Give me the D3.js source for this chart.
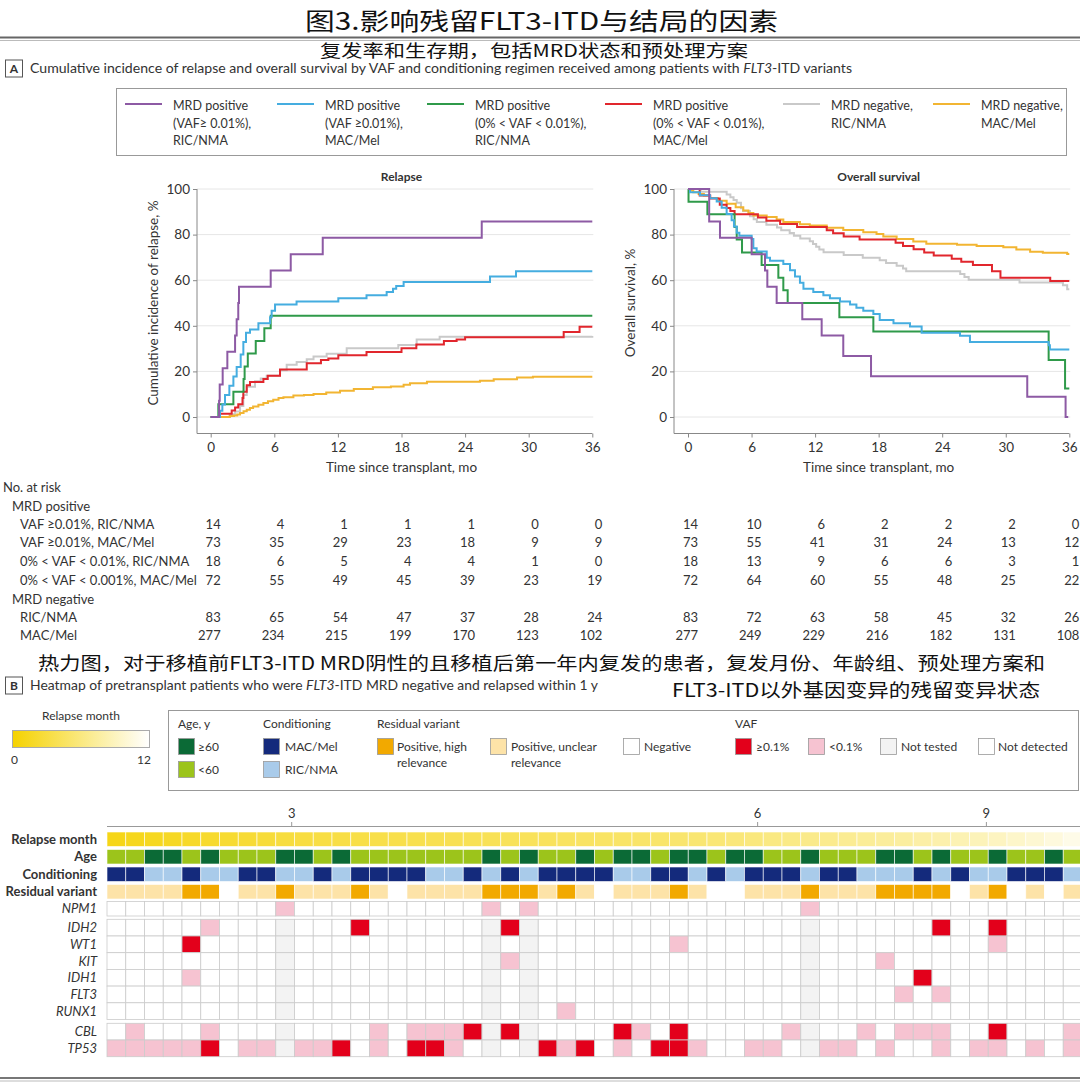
<!DOCTYPE html>
<html><head><meta charset="utf-8">
<script src="https://cdn.jsdelivr.net/npm/d3@7"></script>
<style>
body{margin:0;background:#fff}
svg{display:block}
text{font-family:Lato,"Open Sans",sans-serif;fill:#333}
.cjk{font-family:"Noto Sans CJK SC",sans-serif;fill:#111}
</style>
</head><body>
<svg id="c" width="1080" height="1088"></svg>
<script>
// ---------------- DATA ----------------
const seriesNames = ["MRD positive (VAF≥0.01%), RIC/NMA","MRD positive (VAF≥0.01%), MAC/Mel","MRD positive (0%<VAF<0.01%), RIC/NMA","MRD positive (0%<VAF<0.01%), MAC/Mel","MRD negative, RIC/NMA","MRD negative, MAC/Mel"];
const legendLabels = [
  ["MRD positive","(VAF≥ 0.01%),","RIC/NMA"],
  ["MRD positive","(VAF ≥0.01%),","MAC/Mel"],
  ["MRD positive","(0% < VAF < 0.01%),","RIC/NMA"],
  ["MRD positive","(0% < VAF < 0.01%),","MAC/Mel"],
  ["MRD negative,","RIC/NMA"],
  ["MRD negative,","MAC/Mel"]
];
const timeTicks = [0,6,12,18,24,30,36];
const pctTicks = [0,20,40,60,80,100];

// Relapse cumulative incidence (month, %)
const relPurple = [[0,0],[0.79,7.1],[0.85,14.3],[1.13,21.4],[1.57,28.6],[2.3,35.7],[2.45,42.9],[2.6,50],[2.67,57.1],[5.66,64.3],[7.55,71.4],[10.57,78.6],[25.57,85.7],[36,85.7]];
const relBlue = [[0,0],[0.88,2.7],[1.1,5.5],[1.35,9.6],[1.76,13.7],[2.14,17.8],[2.45,21.9],[2.83,27.4],[3.08,32.9],[3.33,37],[3.71,38.4],[4.5,41.1],[5.6,43.8],[5.75,46.6],[6.07,49.3],[8.1,50.7],[12.04,52.1],[14.7,53.4],[16.6,54.8],[17.2,56.2],[17.5,57.5],[18.2,59.2],[26.35,61.6],[28.8,63.9],[36,63.9]];
const relGreen = [[0,0],[0.72,5.6],[2.14,11.1],[3.1,16.7],[3.2,22.2],[3.5,27.8],[4.25,33.3],[5.06,38.9],[5.66,44.4],[36,44.4]];
const relRed = [[0,0],[0.8,1.4],[1.98,2.8],[2.3,4.2],[2.6,5.6],[3.0,8.3],[3.08,11.1],[3.4,13.9],[3.71,15.3],[4.97,16.7],[5.38,18.1],[6.54,20.8],[9.06,23.6],[10.4,25.0],[11.1,25.7],[12.04,27.1],[14.7,28.5],[18.0,30.2],[19.4,31.8],[22.0,33.3],[23.2,34.0],[24.0,35.0],[33.3,37.3],[34.8,39.6],[36,39.6]];
const relGray = [[0,0],[1.8,1.2],[2.3,2.4],[2.77,4.8],[3.08,9.6],[3.4,13.3],[4.18,15.7],[4.72,16.9],[5.28,18.1],[6.54,20.5],[7.17,22.9],[8.11,24.1],[9.06,25.3],[9.7,26.5],[10.94,27.7],[12.83,30.1],[17.7,31.6],[19.43,34.0],[21.6,35.2],[36,35.5]];
const relOrange = [[0,0],[1.8,0.4],[2.2,0.7],[2.5,1.1],[2.77,1.8],[3.1,2.5],[3.4,3.2],[3.7,3.9],[4.0,4.6],[4.5,5.4],[4.97,6.1],[5.4,6.9],[5.9,7.6],[6.4,8.3],[6.86,8.7],[7.8,9.4],[8.8,9.7],[9.7,10.1],[10.9,10.8],[12.2,11.5],[13.5,12.3],[15.3,13.0],[17.0,13.4],[18.2,14.1],[18.8,14.8],[20.4,15.5],[25.4,15.9],[26.7,16.6],[28.9,17.3],[30.4,17.7],[36,17.7]];

// Overall survival (month, %)
const osPurple = [[0,100],[2.0,85.7],[3.02,78.6],[6.01,71.4],[7.27,64.3],[7.49,57.1],[8.37,50],[10.79,42.9],[12.62,35.7],[14.66,26.8],[17.28,17.9],[32.03,8.9],[35.65,0],[35.9,0]];
const osGreen = [[0,100],[0.05,94.4],[1.83,88.9],[4.4,83.3],[4.6,77.8],[5.1,72.2],[6.95,66.7],[8.53,61.1],[9.0,55.6],[9.41,50],[14.29,43.8],[17.5,37.5],[34.05,25],[35.6,12.5],[36,12.5]];
const osBlue = [[0,100],[0.19,98.6],[1.13,97.3],[2.08,95.9],[2.71,94.5],[3.18,91.8],[3.65,89],[4.12,86.3],[4.34,83.6],[4.6,80.8],[4.85,79.5],[6.01,78.1],[6.17,74],[6.48,72.6],[7.43,69.9],[7.74,68.5],[9.0,67.1],[9.63,64.4],[10.1,61.6],[10.57,58.9],[10.9,56.2],[11.83,54.8],[12.78,53.4],[13.4,52.1],[14.35,50.7],[15.3,49.3],[15.9,47.9],[16.55,46.6],[17.5,45.2],[18.1,42.5],[19.4,41.1],[20.96,39.7],[22.06,37],[25.68,35.6],[26.62,32.9],[34.05,31.5],[34.17,29.6],[36,29.6]];
const osRed = [[0,100],[1.1,97.2],[2.1,95.8],[3.0,93.1],[3.65,91.7],[4.0,90.3],[4.4,88.9],[6.6,87.5],[7.4,86.1],[8.7,84.7],[10.3,83.3],[13.1,81.9],[13.7,80.6],[14.7,79.2],[16.2,77.8],[19.6,76.4],[20.3,75],[21.3,73.6],[22.3,72.2],[23.2,70.8],[24.9,69.4],[25.8,68.1],[26.9,66.7],[28.7,63.9],[29.5,61.1],[34.2,59.7],[36,59.7]];
const osGray = [[0,100],[1.2,98.8],[3.65,97.6],[4.0,96.4],[4.3,95.2],[4.6,94],[5.0,91.6],[5.2,90.4],[5.85,88],[6.2,86.7],[6.5,85.5],[7.4,84.3],[8.4,83.1],[8.8,81.9],[9.6,80.7],[10.0,79.5],[10.6,78.3],[11.5,77.1],[11.8,75.9],[12.1,74.7],[12.4,73.5],[12.8,72.3],[14.7,71.1],[16.5,69.9],[18.1,68.7],[18.7,67.5],[19.7,66.3],[20.3,65.1],[20.6,63.9],[25.7,62.7],[26.1,61.4],[26.5,60.2],[31.3,59],[35.4,57.8],[35.8,56],[36,56]];
const osOrange = [[0,100],[0.3,99.3],[0.5,98.6],[1.0,97.8],[1.5,97.1],[2.08,96.0],[2.8,94.9],[3.65,93.5],[4.5,92.0],[5.22,90.6],[5.7,89.5],[6.17,88.4],[7.43,87.7],[8.37,86.6],[9.0,85.5],[10.57,84.5],[11.5,84.0],[13.1,83.0],[14.66,82.0],[16.55,81.0],[17.8,80.3],[18.44,79.2],[19.7,78.1],[21.27,77.0],[22.5,76.0],[25.4,75.5],[27.25,75.0],[29.77,74.5],[31.0,73.5],[32.3,72.5],[33.5,72.0],[35.8,71.5],[36,71.5]];

// Number at risk
const riskGroups = ["MRD positive","MRD negative"];
const riskLabels = ["VAF ≥0.01%, RIC/NMA","VAF ≥0.01%, MAC/Mel","0% < VAF < 0.01%, RIC/NMA","0% < VAF < 0.001%, MAC/Mel","RIC/NMA","MAC/Mel"];
const relRisk = [[14,4,1,1,1,0,0],[73,35,29,23,18,9,9],[18,6,5,4,4,1,0],[72,55,49,45,39,23,19],[83,65,54,47,37,28,24],[277,234,215,199,170,123,102]];
const osRisk = [[14,10,6,2,2,2,0],[73,55,41,31,24,13,12],[18,13,9,6,6,3,1],[72,64,60,55,48,25,22],[83,72,63,58,45,32,26],[277,249,229,216,182,131,108]];

// Heatmap (52 patients)
const relapseMonth = [1.1,1.3,1.5,1.7,1.9,2.1,2.3,2.5,2.7,2.9,3.05,3.15,3.25,3.35,3.45,3.55,3.65,3.75,3.85,3.95,4.05,4.15,4.25,4.35,4.45,4.6,4.7,4.8,4.9,5.0,5.15,5.3,5.5,5.7,5.9,6.1,6.3,6.5,6.7,6.9,7.1,7.3,7.5,7.8,8.1,8.4,8.7,9.1,9.5,9.9,10.4,10.9];
const heatTicks = [{label:"3",pos:9.85},{label:"6",pos:34.7},{label:"9",pos:46.9}];
// D = >=60, L = <60
const ageGroup = "LLDDLDLLLD"+"DLDLLLLLLL"+"DLDLLDLDDL"+"DDLDDLLDLL"+"LDDLDLLDLL"+"DL";
// M = MAC/Mel, R = RIC/NMA
const conditioning = "MMRRMRRMMR"+"RMRMMMMRRM"+"RMRMMMMRRM"+"MRMRMMMRMM"+"RRRMRMRRMM"+"MR";
// H = positive high relevance, U = positive unclear relevance, N = negative
const residualVariant = "UUUUHHNUUH"+"UUUHUNUUUU"+"HHHUHUNUUU"+"HUNNUUUHUU"+"UHHHHNUHNU"+"NU";
// r = >=0.1%, p = <0.1%, g = not tested, . = not detected
const npm1  = ".........p"+".........."+"p.p......."+".......p.."+".........."+"..";
const idh2  = ".....p...g"+"...r......"+"grg......."+".......g.."+"....r..r.."+"..";
const wt1   = "....r....g"+".........."+"g.g......."+"p......g.."+".......p.."+"..";
const kit   = ".........g"+".........."+"gpg......."+".......g.."+".p........"+"..";
const idh1  = "....p....g"+".........."+"g.g......."+".......g.."+"...r......"+"..";
const flt3  = ".........g"+".........."+"g.g......."+".......g.."+"..p.p....."+"..";
const runx1 = ".........g"+".........."+"g.g.p....."+".......g.."+".........."+"..";
const cbl   = ".p...p...g"+"....p.pppr"+"grg....rp."+"r.....pg.."+"p.ppp..r.."+".p";
const tp53  = "pppppr.ppg"+"ppr.p.rrp."+"g.grpr.p.r"+"rp..pp.gpp"+".p..p.pp.p"+".p";

// ---------------- DRAW ----------------
const svg = d3.select("#c");
svg.append("rect").attr("width",1080).attr("height",1088).attr("fill","#fff");

const colors = ["#8d5aa4","#45ade0","#2f9a4a","#e1262d","#c9c9c9","#f2b532"];

// Titles
svg.append("text").attr("class","cjk").attr("x",305).attr("y",30)
  .attr("font-size",24).attr("font-weight",400).attr("textLength",473).attr("lengthAdjust","spacingAndGlyphs")
  .text("图3.影响残留FLT3-ITD与结局的因素");
svg.append("line").attr("x1",0).attr("x2",1080).attr("y1",37.5).attr("y2",37.5).attr("stroke","#666").attr("stroke-width",2);
svg.append("line").attr("x1",0).attr("x2",1080).attr("y1",40.5).attr("y2",40.5).attr("stroke","#bbb").attr("stroke-width",1);
svg.append("text").attr("class","cjk").attr("x",320).attr("y",57)
  .attr("font-size",17.5).attr("textLength",428).attr("lengthAdjust","spacingAndGlyphs")
  .text("复发率和生存期，包括MRD状态和预处理方案");

function panelLetter(y, letter){
  svg.append("rect").attr("x",5.5).attr("y",y).attr("width",17).attr("height",17).attr("fill","#fff").attr("stroke","#555").attr("stroke-width",1);
  svg.append("text").attr("x",14).attr("y",y+13).attr("text-anchor","middle").attr("font-size",12).attr("font-weight",700).text(letter);
}
panelLetter(60,"A");
{
  const t = svg.append("text").attr("x",30).attr("y",73).attr("font-size",12.5).attr("textLength",822).attr("lengthAdjust","spacingAndGlyphs");
  t.append("tspan").text("Cumulative incidence of relapse and overall survival by VAF and conditioning regimen received among patients with ");
  t.append("tspan").attr("font-style","italic").text("FLT3");
  t.append("tspan").text("-ITD variants");
}

// Top legend
svg.append("rect").attr("x",116.5).attr("y",88.5).attr("width",950).attr("height",67).attr("fill","none").attr("stroke","#999");
const legX = [125,277,427,605,783,933];
legendLabels.forEach((lines,i)=>{
  svg.append("line").attr("x1",legX[i]).attr("x2",legX[i]+37).attr("y1",104).attr("y2",104).attr("stroke",colors[i]).attr("stroke-width",2.2);
  lines.forEach((s,j)=>{
    svg.append("text").attr("x",legX[i]+48).attr("y",110+j*17.5).attr("font-size",12.5).text(s);
  });
});

// KM panels
const yS = d3.scaleLinear().domain([0,100]).range([417,189]);
function kmPanel(x0, x1, axisX, title, ytitle, ytitleX, series){
  const xS = d3.scaleLinear().domain([0,36]).range([x0,x1]);
  const g = svg.append("g");
  g.selectAll(".grid").data(pctTicks).join("line")
    .attr("x1",axisX).attr("x2",x1+1).attr("y1",d=>yS(d)).attr("y2",d=>yS(d))
    .attr("stroke","#e6e6e6").attr("stroke-width",1);
  const ax = g.append("g").attr("transform","translate(0,433.5)")
    .call(d3.axisBottom(xS).tickValues(timeTicks).tickSize(4).tickPadding(5));
  ax.select(".domain").remove();
  ax.selectAll("line").attr("stroke","#888");
  ax.selectAll("text").attr("font-size",13.5).attr("fill","#333").attr("font-family","Lato");
  g.append("line").attr("x1",axisX).attr("x2",x1).attr("y1",433.5).attr("y2",433.5).attr("stroke","#888");
  const ay = g.append("g").attr("transform",`translate(${axisX},0)`)
    .call(d3.axisLeft(yS).tickValues(pctTicks).tickSize(4).tickPadding(3));
  ay.select(".domain").remove();
  ay.selectAll("line").attr("stroke","#888");
  ay.selectAll("text").attr("font-size",13.5).attr("fill","#333").attr("font-family","Lato");
  g.append("line").attr("x1",axisX).attr("x2",axisX).attr("y1",189).attr("y2",433.5).attr("stroke","#888");
  g.append("text").attr("x",(x0+x1)/2).attr("y",181).attr("text-anchor","middle").attr("font-size",12).attr("font-weight",700).text(title);
  g.append("text").attr("x",(x0+x1)/2).attr("y",472).attr("text-anchor","middle").attr("font-size",13.5).text("Time since transplant, mo");
  g.append("text").attr("transform",`translate(${ytitleX},303) rotate(-90)`).attr("text-anchor","middle").attr("font-size",13.5).text(ytitle);
  const line = d3.line().x(d=>xS(d[0])).y(d=>yS(d[1])).curve(d3.curveStepAfter);
  const order = [4,5,3,2,1,0];
  order.forEach(i=>{
    g.append("path").datum(series[i]).attr("d",line).attr("fill","none").attr("stroke",colors[i]).attr("stroke-width",2).attr("stroke-linejoin","miter");
  });
  return xS;
}
const relX = kmPanel(210.7, 592.3, 197, "Relapse", "Cumulative incidence of relapse, %", 158,
  [relPurple, relBlue, relGreen, relRed, relGray, relOrange]);
const osX = kmPanel(688, 1069.3, 674, "Overall survival", "Overall survival, %", 635,
  [osPurple, osBlue, osGreen, osRed, osGray, osOrange]);

// Number at risk table
svg.append("text").attr("x",3).attr("y",492).attr("font-size",13).text("No. at risk");
svg.append("text").attr("x",12).attr("y",510.5).attr("font-size",13).text(riskGroups[0]);
svg.append("text").attr("x",12).attr("y",603.5).attr("font-size",13).text(riskGroups[1]);
const riskY = [528.5,547,566,584.5,621.5,640];
riskLabels.forEach((lab,i)=>{
  svg.append("text").attr("x",20).attr("y",riskY[i]).attr("font-size",13).text(lab);
  relRisk[i].forEach((v,j)=>{
    svg.append("text").attr("x",relX(timeTicks[j])+10).attr("y",riskY[i]).attr("text-anchor","end").attr("font-size",13).text(v);
  });
  osRisk[i].forEach((v,j)=>{
    svg.append("text").attr("x",osX(timeTicks[j])+10).attr("y",riskY[i]).attr("text-anchor","end").attr("font-size",13).text(v);
  });
});

// Panel B captions
svg.append("text").attr("class","cjk").attr("x",38).attr("y",670).attr("font-size",18.5).attr("textLength",1007).attr("lengthAdjust","spacingAndGlyphs")
  .text("热力图，对于移植前FLT3-ITD MRD阴性的且移植后第一年内复发的患者，复发月份、年龄组、预处理方案和");
svg.append("text").attr("class","cjk").attr("x",672).attr("y",697).attr("font-size",18.5).attr("textLength",368).attr("lengthAdjust","spacingAndGlyphs")
  .text("FLT3-ITD以外基因变异的残留变异状态");
panelLetter(677,"B");
{
  const t = svg.append("text").attr("x",30).attr("y",690).attr("font-size",12.5).attr("textLength",568).attr("lengthAdjust","spacingAndGlyphs");
  t.append("tspan").text("Heatmap of pretransplant patients who were ");
  t.append("tspan").attr("font-style","italic").text("FLT3");
  t.append("tspan").text("-ITD MRD negative and relapsed within 1 y");
}

// Relapse month legend
const monthColor = d3.scaleLinear().domain([0,12]).range(["#f5d200","#ffffff"]);
const grad = svg.append("defs").append("linearGradient").attr("id","mg");
grad.append("stop").attr("offset","0%").attr("stop-color",monthColor(0));
grad.append("stop").attr("offset","100%").attr("stop-color",monthColor(12));
svg.append("text").attr("x",81).attr("y",720).attr("text-anchor","middle").attr("font-size",12).text("Relapse month");
svg.append("rect").attr("x",12.5).attr("y",730.5).attr("width",137).attr("height",17).attr("fill","url(#mg)").attr("stroke","#aaa");
svg.append("text").attr("x",11).attr("y",764).attr("font-size",12).text("0");
svg.append("text").attr("x",151).attr("y",764).attr("text-anchor","end").attr("font-size",12).text("12");

// Heat legend box
const cAgeOld="#0b6a36", cAgeYoung="#9cc41b", cMAC="#142a7c", cRIC="#a9cbea",
      cHigh="#f2a900", cUnclear="#fde3a8", cRed="#e3001b", cPink="#f6c3d1", cNT="#f3f3f3";
svg.append("rect").attr("x",168.5).attr("y",710.5).attr("width",910).attr("height",80).attr("fill","none").attr("stroke","#999");
function sw(x,y,fill){ svg.append("rect").attr("x",x+0.5).attr("y",y+0.5).attr("width",16).attr("height",16).attr("fill",fill).attr("stroke","#999").attr("stroke-width",0.8); }
function lt(x,y,s){ svg.append("text").attr("x",x).attr("y",y).attr("font-size",12).text(s); }
lt(178,728,"Age, y"); sw(178,738,cAgeOld); lt(198,751,"≥60"); sw(178,761,cAgeYoung); lt(198,774,"<60");
lt(263,728,"Conditioning"); sw(263,738,cMAC); lt(285,751,"MAC/Mel"); sw(263,761,cRIC); lt(285,774,"RIC/NMA");
lt(377,728,"Residual variant"); sw(377,738,cHigh); lt(397,751,"Positive, high"); lt(397,767,"relevance");
sw(490,738,cUnclear); lt(511,751,"Positive, unclear"); lt(511,767,"relevance");
sw(623,738,"#fff"); lt(644,751,"Negative");
lt(735,728,"VAF"); sw(735,738,cRed); lt(756,751,"≥0.1%"); sw(808,738,cPink); lt(829,751,"<0.1%");
sw(880,738,cNT); lt(901,751,"Not tested"); sw(978,738,"#fff"); lt(998,751,"Not detected");

// Heatmap
const nCols = relapseMonth.length;
const hx = d3.scaleBand().domain(d3.range(nCols)).range([107, 107 + nCols*18.75]).padding(0);
const hLin = d3.scaleLinear().domain([0,nCols]).range([107, 107 + nCols*18.75]);
const hg = svg.append("g");
hg.append("line").attr("x1",107).attr("x2",1080).attr("y1",826.5).attr("y2",826.5).attr("stroke","#999");
heatTicks.forEach(t=>{
  const x = hLin(t.pos);
  hg.append("line").attr("x1",x).attr("x2",x).attr("y1",822).attr("y2",826.5).attr("stroke","#999");
  hg.append("text").attr("x",x).attr("y",818).attr("text-anchor","middle").attr("font-size",13).text(t.label);
});
const annoColor = {
  age: v=> v==="D"?cAgeOld:cAgeYoung,
  cond: v=> v==="M"?cMAC:cRIC,
  res: v=> v==="H"?cHigh:(v==="U"?cUnclear:"#ffffff")
};
const geneColor = v=> v==="r"?cRed:(v==="p"?cPink:(v==="g"?cNT:"#ffffff"));
const rows = [
  {label:"Relapse month", vals: relapseMonth, color: monthColor, y:832, h:14.5, bold:true, stroke:"#fff"},
  {label:"Age", vals: ageGroup.split(""), color: annoColor.age, y:849.5, h:14.5, bold:true, stroke:"#fff"},
  {label:"Conditioning", vals: conditioning.split(""), color: annoColor.cond, y:867, h:14.5, bold:true, stroke:"#fff"},
  {label:"Residual variant", vals: residualVariant.split(""), color: annoColor.res, y:884.5, h:14.5, bold:true, stroke:"#fff"},
  {label:"NPM1", vals: npm1.split(""), color: geneColor, y:901.5, h:14.5},
  {label:"IDH2", vals: idh2.split(""), color: geneColor, y:919.3, h:16.7},
  {label:"WT1", vals: wt1.split(""), color: geneColor, y:936, h:16.7},
  {label:"KIT", vals: kit.split(""), color: geneColor, y:952.7, h:16.7},
  {label:"IDH1", vals: idh1.split(""), color: geneColor, y:969.4, h:16.7},
  {label:"FLT3", vals: flt3.split(""), color: geneColor, y:986.1, h:16.7},
  {label:"RUNX1", vals: runx1.split(""), color: geneColor, y:1002.8, h:16.7},
  {label:"CBL", vals: cbl.split(""), color: geneColor, y:1023.3, h:16.7},
  {label:"TP53", vals: tp53.split(""), color: geneColor, y:1040, h:16.7}
];
rows.forEach(r=>{
  hg.selectAll(null).data(r.vals).join("rect")
    .attr("x",(d,i)=>hx(i)).attr("y",r.y).attr("width",hx.bandwidth()).attr("height",r.h)
    .attr("fill",d=>r.color(d))
    .attr("stroke", r.stroke ? "rgba(255,255,255,0.75)" : "#cbcbcb")
    .attr("stroke-width", 0.8);
  hg.append("text").attr("x",97).attr("y",r.y+r.h/2+4.5).attr("text-anchor","end")
    .attr("font-size",13).attr("font-weight",r.bold?700:400).attr("font-style",r.bold?"normal":"italic")
    .attr("fill","#222").text(r.label);
});

// bottom rule
svg.append("line").attr("x1",0).attr("x2",1080).attr("y1",1078).attr("y2",1078).attr("stroke","#777").attr("stroke-width",2);
svg.append("line").attr("x1",0).attr("x2",1080).attr("y1",1081).attr("y2",1081).attr("stroke","#bbb").attr("stroke-width",1);
</script>
</body></html>
